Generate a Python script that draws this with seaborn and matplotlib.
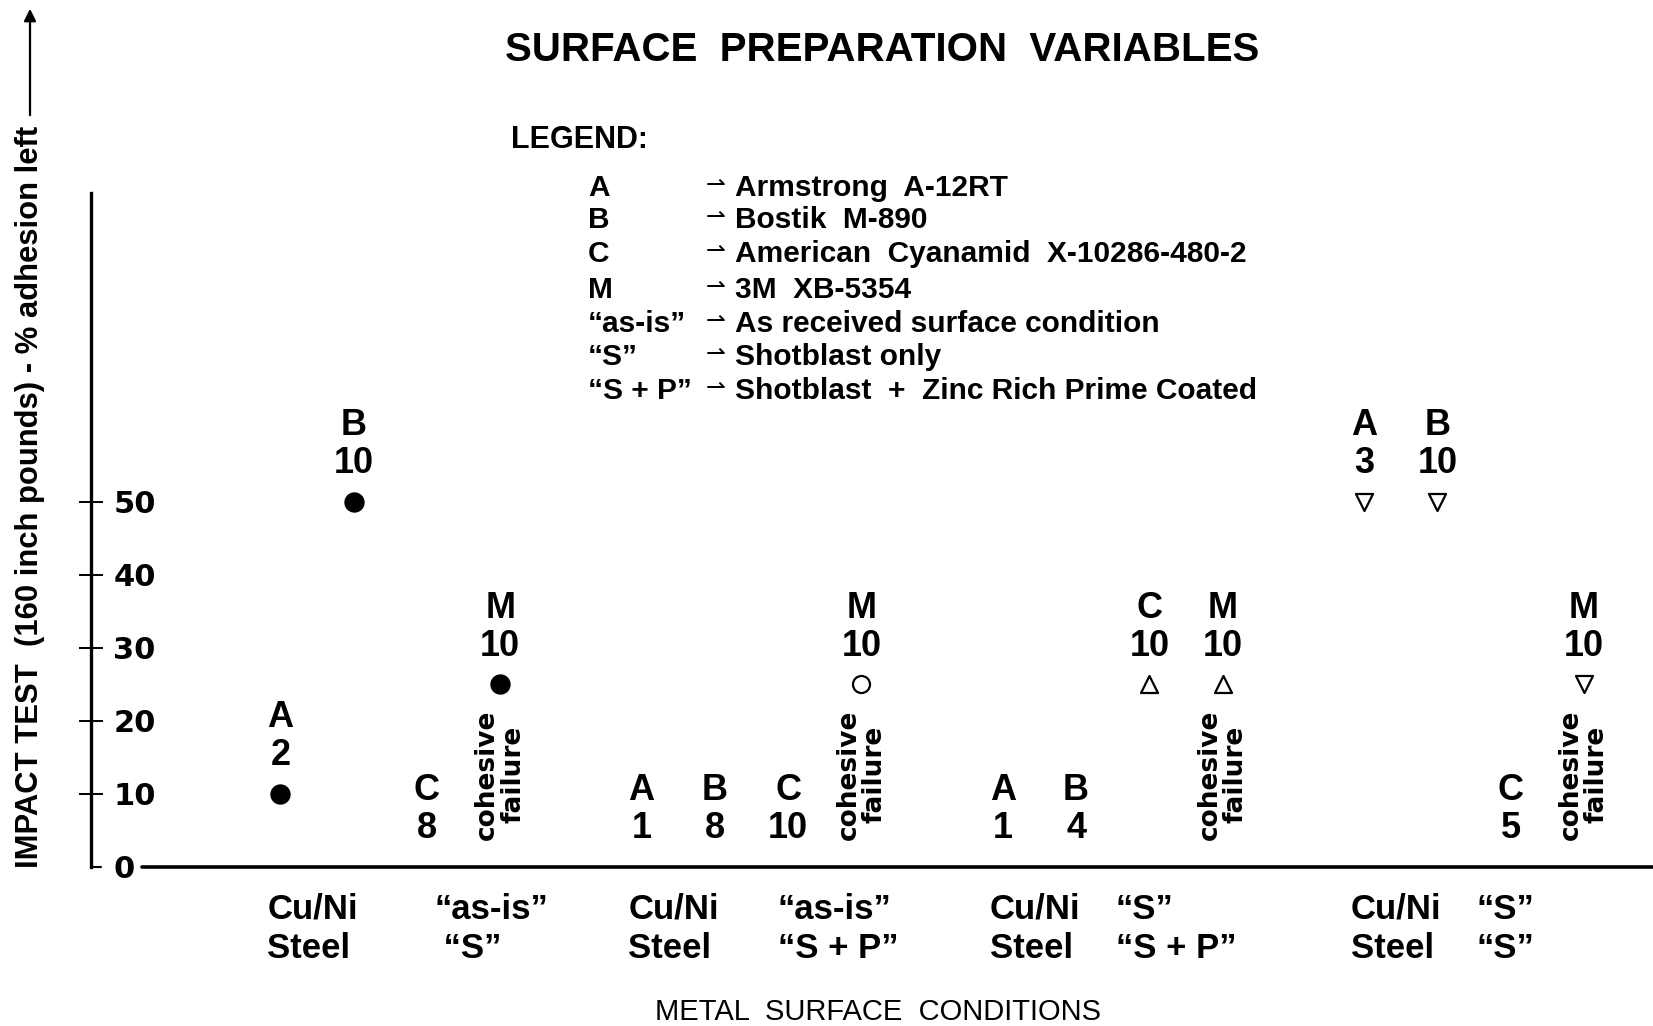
import matplotlib
matplotlib.use("Agg")
import numpy as np
import pandas as pd
import matplotlib.pyplot as plt
import seaborn as sns

# adhesives tested on each surface condition
adhesives = ["A", "B", "C", "M"]
metal_labels = ["Cu/Ni\nSteel", "Cu/Ni\nSteel", "Cu/Ni\nSteel", "Cu/Ni\nSteel"]
surface_labels = ["\u201cas-is\u201d\n \u201cS\u201d", "\u201cas-is\u201d\n\u201cS + P\u201d",
                  "\u201cS\u201d\n\u201cS + P\u201d", "\u201cS\u201d\n\u201cS\u201d"]

# impact test level where a mark is plotted (nan = no mark)
impact_asis_s = [10, 50, np.nan, 25]
impact_asis_sp = [np.nan, np.nan, np.nan, 25]
impact_s_sp = [np.nan, np.nan, 25, 25]
impact_s_s = [50, 50, np.nan, 25]

# % adhesion left, written under each adhesive letter
adhesion_asis_s = [2, 10, 8, 10]
adhesion_asis_sp = [1, 8, 10, 10]
adhesion_s_sp = [1, 4, 10, 10]
adhesion_s_s = [3, 10, 5, 10]

# adhesive that showed cohesive failure in each group
cohesive_failure = ["M", "M", "M", "M"]

legend_keys = ["A", "B", "C", "M", "\u201cas-is\u201d", "\u201cS\u201d", "\u201cS + P\u201d"]
legend_text = ["Armstrong  A-12RT", "Bostik  M-890", "American  Cyanamid  X-10286-480-2",
               "3M  XB-5354", "As received surface condition", "Shotblast only",
               "Shotblast  +  Zinc Rich Prime Coated"]

yticks = [0, 10, 20, 30, 40, 50]

# marker style per group: (marker, filled)
group_markers = [("o", True), ("o", False), ("^", False), ("v", False)]
GROUP_STEP = 4.93

impacts = [impact_asis_s, impact_asis_sp, impact_s_sp, impact_s_s]
adhesions = [adhesion_asis_s, adhesion_asis_sp, adhesion_s_sp, adhesion_s_s]
rows = []
for g in range(4):
    for k, a in enumerate(adhesives):
        rows.append({"group": g, "adhesive": a, "pos": g * GROUP_STEP + k,
                     "impact": impacts[g][k], "adhesion": adhesions[g][k]})
df = pd.DataFrame(rows)

sns.set_theme(style="white")
SANS = ["Liberation Sans", "DejaVu Sans"]
WIDE = ["DejaVu Sans"]
plt.rcParams["font.family"] = SANS
plt.rcParams["text.color"] = "black"
plt.rcParams["xtick.color"] = "black"
plt.rcParams["ytick.color"] = "black"
plt.rcParams["axes.labelcolor"] = "black"

W, H = 1653, 1026
fig = plt.figure(figsize=(W / 100, H / 100), dpi=100)
ax_left, ax_right, ax_bottom, ax_top = 90.7, 1653, 866.6, 193
ax = fig.add_axes([ax_left / W, 1 - ax_bottom / H, (ax_right - ax_left) / W, (ax_bottom - ax_top) / H])

for g, (mk, filled) in enumerate(group_markers):
    sub = df[(df["group"] == g) & df["impact"].notna()]
    if filled:
        sns.scatterplot(data=sub, x="pos", y="impact", marker=mk, s=215, color="black",
                        edgecolor="black", linewidth=0, ax=ax, legend=False, zorder=3)
    else:
        size = 150 if mk == "o" else 150
        sns.scatterplot(data=sub, x="pos", y="impact", marker=mk, s=size, facecolor="white",
                        edgecolor="black", linewidth=1.6, ax=ax, legend=False, zorder=3)

# adhesive letter + adhesion rating above each mark (or near the baseline)
for _, r in df.iterrows():
    base = r["impact"] if not np.isnan(r["impact"]) else 0
    ax.text(r["pos"], base + 10.4, r["adhesive"], ha="center", va="center",
            fontsize=26, fontweight="bold")
    ax.text(r["pos"], base + 5.2, str(r["adhesion"]), ha="center", va="center",
            fontsize=26, fontweight="bold")
    if r["adhesive"] == cohesive_failure[r["group"]]:
        ax.text(r["pos"], 12.6, "cohesive\nfailure", rotation=90, ha="center", va="center",
                multialignment="center", fontsize=19, fontweight="bold", family=WIDE,
                linespacing=1.0)

ax.set_xlim((ax_left - 280.4) / 73.27, (ax_right - 280.4) / 73.27)
ax.set_ylim(0, 92.3)
for s in ["top", "right", "bottom"]:
    ax.spines[s].set_visible(False)
ax.spines["left"].set_linewidth(2.4)
ax.spines["left"].set_color("black")
ax.axhline(0, xmin=(142 - ax_left) / (ax_right - ax_left), xmax=1, color="black", lw=2.6, clip_on=False)
ax.axhline(0, xmin=0, xmax=(101 - ax_left) / (ax_right - ax_left), color="black", lw=1.5, clip_on=False)

ax.set_yticks(yticks)
ax.set_yticklabels([str(t) for t in yticks])
ax.tick_params(axis="y", direction="inout", length=16.6, width=1.4, color="black",
               pad=-24.6, labelsize=22, left=True)
for lbl in ax.get_yticklabels():
    lbl.set_horizontalalignment("left")
    lbl.set_family(WIDE)
    lbl.set_fontweight("bold")
ax.yaxis.get_major_ticks()[0].tick1line.set_visible(False)

# two columns of category labels under each group (left aligned)
metal_pos = [g * GROUP_STEP - 0.18 for g in range(4)]
surface_pos = [g * GROUP_STEP + off for g, off in enumerate([2.1, 1.86, 1.54, 1.53])]
ax.set_xticks(metal_pos, metal_labels)
ax.set_xticks(surface_pos, surface_labels, minor=True)
ax.tick_params(axis="x", which="both", length=0, pad=19, labelsize=25)
for lbl in ax.get_xticklabels() + ax.get_xticklabels(minor=True):
    lbl.set_linespacing(1.25)
    lbl.set_horizontalalignment("left")
    lbl.set_multialignment("left")
    lbl.set_fontweight("bold")
ax.set_xlabel("")
ax.set_ylabel("")

fig.text(882 / W, 1 - 50 / H, "SURFACE  PREPARATION  VARIABLES", ha="center", va="center",
         fontsize=29, fontweight="bold")
fig.text(511 / W, 1 - 140 / H, "LEGEND:", ha="left", va="center", fontsize=22, fontweight="bold")
legend_rows = [187.6, 220.3, 254, 290, 323.6, 357.4, 391.1]
for yk, key, txt in zip(legend_rows, legend_keys, legend_text):
    fig.text(588 / W, 1 - yk / H, key, ha="left", va="center", fontsize=21.5, fontweight="bold")
    fig.text(706 / W, 1 - (yk - 3) / H, "\u21c0", ha="left", va="center", fontsize=17, family=WIDE)
    fig.text(735 / W, 1 - yk / H, txt, ha="left", va="center", fontsize=21.5, fontweight="bold")

fig.text(878 / W, 1 - 1012 / H, "METAL  SURFACE  CONDITIONS", ha="center", va="center", fontsize=21)
fig.text(30 / W, 1 - 497 / H, "IMPACT TEST  (160 inch pounds) - % adhesion left", rotation=90,
         ha="center", va="center", fontsize=22.3, fontweight="bold")
fig.add_artist(matplotlib.patches.FancyArrowPatch((30 / W, 1 - 118 / H), (30 / W, 1 - 6 / H),
               transform=fig.transFigure, arrowstyle="-|>", mutation_scale=18, lw=1.6, color="black"))

fig.savefig("out.png", dpi=100)
